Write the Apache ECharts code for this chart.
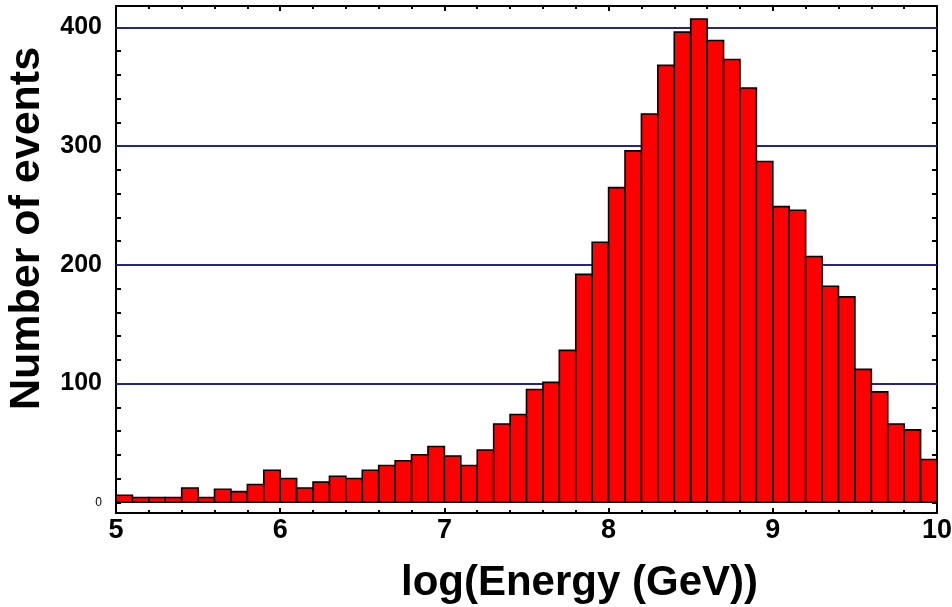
<!DOCTYPE html>
<html>
<head>
<meta charset="utf-8">
<script src="https://cdn.jsdelivr.net/npm/echarts@6/dist/echarts.min.js"></script>
<style>
  html, body { margin: 0; padding: 0; background: #fff; }
  #main { width: 952px; height: 607px; }
</style>
</head>
<body>
<div id="main"></div>
<script>
// histogram of log10(E/GeV), bins of 0.1 from 5 to 10
const binStart = 5;
const binWidth = 0.1;
const counts = [
  6, 4, 4, 4, 12, 4, 11, 9, 15, 27,
  20, 12, 17, 22, 20, 27, 31, 35, 40, 47,
  39, 31, 44, 66, 74, 95, 101, 128, 192, 219,
  265, 296, 327, 368, 396, 407, 389, 373, 349, 287,
  249, 246, 207, 182, 173, 112, 93, 66, 61, 36
];
const yLabelValues = [0, 100, 200, 300, 400];
const yTickValues = [0, 20, 40, 60, 80, 100, 120, 140, 160, 180, 200,
  220, 240, 260, 280, 300, 320, 340, 360, 380, 400];
const gridLineValues = [100, 200, 300, 400];

const FONT = '"Liberation Sans", Arial, sans-serif';

let chart = echarts.init(document.getElementById("main"), null, { renderer: "canvas" });

let histData = [];
counts.forEach((c, i) => {
  histData.push([binStart + i * binWidth, binStart + (i + 1) * binWidth, c]);
});

let xCommon = {
  type: "value",
  min: 5,
  max: 10,
  interval: 1,
  splitLine: { show: false },
  axisLine: { show: true, onZero: false, lineStyle: { color: "#000", width: 2 } },
  axisTick: { show: true, inside: true, length: 5, lineStyle: { color: "#000", width: 2 } },
  minorTick: { show: true, splitNumber: 5, length: 3, lineStyle: { color: "#000", width: 2 } },
};

let yCommon = {
  type: "value",
  min: -9,
  max: 418,
  splitLine: { show: false },
  axisLine: { show: true, onZero: false, lineStyle: { color: "#000", width: 2 } },
  axisTick: { show: true, inside: true, length: 5, customValues: yTickValues, lineStyle: { color: "#000", width: 2 } },
};

let option = {
  animation: false,
  backgroundColor: "#fff",
  grid: { left: 116, right: 15, top: 6, bottom: 94, containLabel: false, outerBoundsMode: "none" },
  xAxis: [
    Object.assign({}, xCommon, {
      position: "bottom",
      name: "log(Energy (GeV))",
      nameLocation: "middle",
      nameGap: 49,
      nameTextStyle: {
        fontFamily: FONT, fontWeight: "bold", fontSize: 42, color: "#000",
        padding: [0, 0, 0, 106],
      },
      axisLabel: {
        margin: 4,
        fontFamily: FONT, fontWeight: "bold", fontSize: 27, color: "#000",
      },
    }),
    Object.assign({}, xCommon, {
      position: "top",
      axisLabel: { show: false },
    }),
  ],
  yAxis: [
    Object.assign({}, yCommon, {
      position: "left",
      name: "Number of events",
      nameLocation: "middle",
      nameGap: 67,
      nameTextStyle: {
        fontFamily: FONT, fontWeight: "bold", fontSize: 43, color: "#000",
        padding: [0, 0, 0, 62],
      },
      axisLabel: {
        margin: 14,
        customValues: yLabelValues,
        formatter: (v) => (v === 0 ? "{s|0}" : "{b|" + v + "}"),
        rich: {
          s: { fontFamily: FONT, fontSize: 12, color: "#000" },
          b: { fontFamily: FONT, fontWeight: "bold", fontSize: 25, color: "#000" },
        },
      },
    }),
    Object.assign({}, yCommon, {
      position: "right",
      axisLabel: { show: false },
    }),
  ],
  series: [
    {
      type: "custom",
      xAxisIndex: 0,
      yAxisIndex: 0,
      z: 3,
      data: histData,
      encode: { x: [0, 1], y: 2 },
      renderItem: function (params, api) {
        let p0 = api.coord([api.value(0), api.value(2)]);
        let p1 = api.coord([api.value(1), 0]);
        return {
          type: "rect",
          shape: { x: p0[0], y: p0[1], width: p1[0] - p0[0], height: p1[1] - p0[1] },
          style: { fill: "#ff0000", stroke: "#000", lineWidth: 1.6 },
        };
      },
      markLine: {
        silent: true,
        z: 1,
        symbol: "none",
        label: { show: false },
        lineStyle: { color: "#24248f", width: 2, type: "solid" },
        data: gridLineValues.map((v) => ({ yAxis: v })),
      },
    },
  ],
};
chart.setOption(option);
</script>
</body>
</html>
